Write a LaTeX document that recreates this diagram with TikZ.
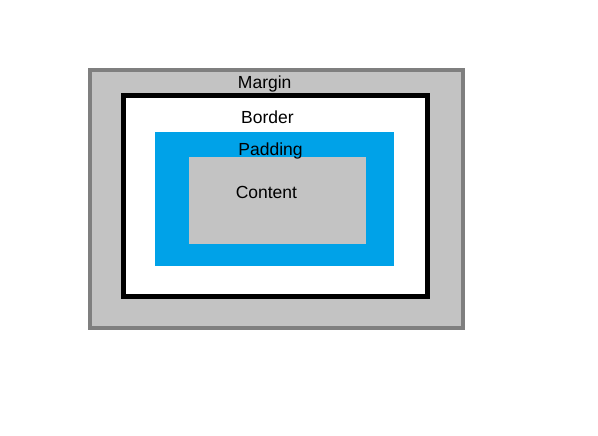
\documentclass[tikz,border=0pt]{standalone}
\usepackage{fontspec}
\setmainfont{Liberation Sans}
\definecolor{boxgray}{HTML}{C3C3C3}
\definecolor{edgegray}{HTML}{7F7F7F}
\definecolor{padblue}{HTML}{00A2E8}

\tikzset{
    layer/.style={shape=rectangle,inner sep=0pt,outer sep=0pt},
    caption/.style={anchor=base,inner sep=0pt,font=\fontsize{17.5}{20}\selectfont}
}

\begin{document}
\begin{tikzpicture}[x=1pt,y=-1pt]
    \useasboundingbox (0,0) rectangle (598,436);
    \node[layer,fill=boxgray,draw=edgegray,line width=3.5pt,minimum width=373pt,minimum height=258pt] (margin) at (276.5,199) {};
    \node[layer,fill=white,draw=black,line width=5pt,minimum width=304pt,minimum height=200.5pt] (border) at (275.5,196.25) {};
    \node[layer,fill=padblue,minimum width=239pt,minimum height=134pt] (padding) at (274.5,198.6) {};
    \node[layer,fill=boxgray,minimum width=177pt,minimum height=87pt] (content) at (277.5,200.5) {};
    \node[caption] (marginlabel) at (264.7,89) {Margin};
    \node[caption] (borderlabel) at (267.5,123.3) {Border};
    \node[caption] (paddinglabel) at (270.5,155) {Padding};
    \node[caption] (contentlabel) at (266.4,198) {Content};
\end{tikzpicture}
\end{document}
